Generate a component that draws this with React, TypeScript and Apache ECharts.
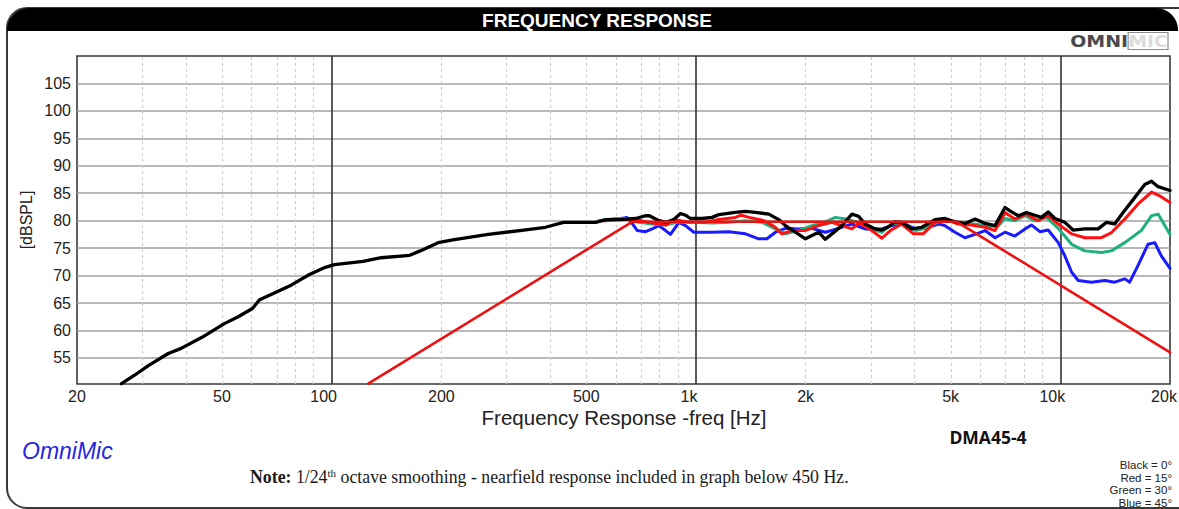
import React, { useEffect, useRef } from "react";
import * as echarts from "echarts";

// ---- data (frequency in Hz, level in dB SPL) ----
const FREQ_TICKS = [20, 50, 100, 200, 500, 1000, 2000, 5000, 10000, 20000];
const FREQ_TICK_LABELS = ["20", "50", "100", "200", "500", "1k", "2k", "5k", "10k", "20k"];
const DB_TICKS = [55, 60, 65, 70, 75, 80, 85, 90, 95, 100, 105];
const MINOR_FREQS = [30, 40, 50, 60, 70, 80, 90, 200, 300, 400, 500, 600, 700, 800, 900, 2000, 3000, 4000, 5000, 6000, 7000, 8000, 9000];
const MAJOR_FREQS = [100, 1000, 10000];

const black0: number[][] = [
  [26.5, 50.3], [28.7, 51.8], [31.4, 53.6], [35.6, 55.8], [38.5, 56.7], [44.2, 58.8], [50.6, 61.2], [55.4, 62.5],
  [60.6, 64.0], [63.4, 65.6], [69.4, 66.8], [77.6, 68.3], [86.9, 70.2], [95.1, 71.4], [101.8, 72.0], [122, 72.6],
  [136.7, 73.25], [163.8, 73.7], [175, 74.5], [196, 76.0], [215, 76.5], [269, 77.5], [337, 78.3], [386, 78.8],
  [433, 79.7], [530, 79.7], [568, 80.2], [615, 80.2], [683, 80.4], [727, 80.9], [745, 80.9], [791, 80.0],
  [828, 79.7], [869, 80.2], [907, 81.3], [936, 81.0], [965, 80.4], [1040, 80.4], [1107, 80.6], [1155, 81.1],
  [1283, 81.5], [1367, 81.7], [1456, 81.5], [1585, 81.2], [1687, 80.2], [1760, 79.1], [1875, 77.9], [1997, 76.7],
  [2081, 77.3], [2171, 77.9], [2264, 76.6], [2361, 77.6], [2514, 79.1], [2679, 81.2], [2794, 80.8], [2915, 79.4],
  [3105, 78.5], [3237, 78.3], [3376, 78.9], [3520, 79.8], [3670, 79.7], [3910, 78.5], [4167, 78.8], [4530, 80.2],
  [4826, 80.4], [5140, 79.8], [5475, 79.5], [5834, 80.3], [6214, 79.5], [6620, 79.1], [7050, 82.4], [7350, 81.6],
  [7670, 80.9], [8075, 81.5], [8510, 81.0], [8877, 80.6], [9262, 81.6], [9660, 80.4], [10290, 79.7], [10840, 78.3],
  [11670, 78.5], [12700, 78.5], [13390, 79.7], [14100, 79.4], [14870, 81.5], [16000, 84.2], [17050, 86.6],
  [17790, 87.2], [18550, 86.2], [20000, 85.5],
];

const red15: number[][] = [
  [560, 80.0], [615, 80.2], [683, 80.2], [727, 79.8], [791, 79.4], [828, 79.2], [869, 80.2], [953, 79.7],
  [1060, 79.7], [1155, 80.2], [1283, 80.6], [1330, 81.0], [1400, 80.6], [1540, 80.0], [1650, 78.8], [1720, 77.6],
  [1830, 78.2], [1990, 78.2], [2170, 79.1], [2360, 79.7], [2510, 79.1], [2680, 78.5], [2800, 79.6], [3040, 78.2],
  [3237, 76.8], [3415, 78.2], [3670, 79.4], [3953, 77.6], [4200, 77.6], [4530, 79.7], [4931, 80.0], [5250, 79.4],
  [5710, 79.2], [6214, 78.8], [6620, 78.2], [7050, 81.5], [7500, 80.3], [8075, 81.2], [8690, 80.0], [9262, 80.9],
  [9870, 79.4], [10740, 77.6], [11670, 76.9], [12970, 76.9], [13800, 77.8], [15030, 80.3], [16330, 83.0],
  [17790, 85.2], [18760, 84.5], [20000, 83.3],
];

const green30: number[][] = [
  [540, 80.0], [600, 80.4], [647, 80.4], [697, 79.7], [758, 79.4], [825, 79.2], [897, 79.8], [998, 79.7],
  [1107, 79.6], [1231, 79.7], [1367, 80.0], [1518, 79.7], [1652, 78.5], [1760, 77.6], [1913, 78.2], [2081, 79.1],
  [2264, 79.8], [2412, 80.6], [2570, 80.3], [2793, 79.7], [3040, 78.5], [3237, 77.9], [3450, 79.4], [3670, 79.7],
  [4000, 78.2], [4257, 78.6], [4630, 79.8], [4931, 80.0], [5360, 79.5], [5834, 79.4], [6350, 78.9], [6760, 79.1],
  [7050, 80.4], [7500, 80.0], [8000, 80.9], [8510, 80.0], [9166, 80.6], [9870, 78.6], [10740, 75.7], [11670, 74.5],
  [12970, 74.2], [13800, 74.5], [15030, 76.0], [16680, 78.2], [17790, 80.9], [18550, 81.2], [20000, 77.5],
];

const blue45: number[][] = [
  [600, 80.2], [647, 80.6], [665, 79.7], [690, 78.2], [727, 78.0], [758, 78.5], [791, 79.1], [825, 78.2],
  [851, 77.5], [878, 78.8], [897, 79.7], [936, 79.1], [986, 77.9], [1107, 77.9], [1231, 78.0], [1367, 77.6],
  [1486, 76.7], [1566, 76.7], [1652, 77.9], [1760, 78.6], [1913, 78.5], [2081, 78.6], [2264, 77.9], [2461, 78.6],
  [2679, 79.4], [2911, 78.5], [3237, 78.5], [3450, 79.1], [3750, 79.4], [4000, 78.5], [4257, 78.6], [4630, 79.4],
  [4826, 79.1], [5140, 77.9], [5475, 76.9], [5834, 77.5], [6214, 78.2], [6620, 76.9], [7050, 77.9], [7500, 77.2],
  [8000, 78.5], [8340, 79.2], [8790, 78.0], [9262, 78.3], [9870, 76.0], [10290, 73.6], [10740, 70.6], [11200, 69.1],
  [12180, 68.8], [13250, 69.1], [14100, 68.8], [15030, 69.4], [15500, 68.8], [16330, 71.8], [17400, 75.7],
  [18170, 76.0], [18930, 73.6], [20000, 71.3],
];

const targetLine: number[][] = [[126, 50.3], [668, 79.8], [5200, 79.8], [20000, 56.0]];

const LEGEND_LINES = ["Black = 0°", "Red = 15°", "Green = 30°", "Blue = 45°"];

// ---- helpers ----
const toLog = (pts: number[][]) => pts.map(([f, d]) => [Math.log10(f), d]);
const SANS = '"Liberation Sans", Arial, sans-serif';
const SERIF = '"Liberation Serif", "Times New Roman", serif';

export default function App() {
  const ref = useRef<HTMLDivElement>(null);

  useEffect(() => {
    if (!ref.current) return;
    const chart = echarts.init(ref.current, null, { renderer: "svg" });

    const gridLineData: any[] = [
      ...DB_TICKS.map((v) => ({ yAxis: v, lineStyle: { color: "#a0a0a0", width: 1.7, type: "solid" } })),
      ...MINOR_FREQS.map((f) => ({ xAxis: Math.log10(f), lineStyle: { color: "#cdcdcd", width: 1.2, type: [3, 3] } })),
      ...MAJOR_FREQS.map((f) => ({ xAxis: Math.log10(f), lineStyle: { color: "#333333", width: 1.6, type: "solid" } })),
    ];

    // small left shifts of some tick labels, as in the reference
    const labelStyleKey: Record<string, string> = { "100": "s16", "1k": "s14", "10k": "s16", "20k": "s12" };

    const curve = (name: string, data: number[][], color: string, width: number, z: number, extra: any = {}) => ({
      type: "line",
      name,
      data: toLog(data),
      showSymbol: false,
      symbol: "none",
      smooth: false,
      z,
      lineStyle: { color, width, join: "round", cap: "round" },
      emphasis: { disabled: true },
      ...extra,
    });

    const labelFont = { fontSize: 16, fontFamily: SANS, color: "#222" };

    const option: any = {
      animation: false,
      backgroundColor: "#ffffff",
      grid: {
        left: 77,
        right: 9,
        top: 56,
        bottom: 125,
        show: true,
        borderColor: "#3a3a3a",
        borderWidth: 1.6,
        backgroundColor: "#ffffff",
        outerBoundsMode: "none",
        containLabel: false,
      },
      xAxis: {
        type: "value",
        min: Math.log10(20),
        max: Math.log10(20000),
        axisLine: { show: false },
        axisTick: { show: false },
        splitLine: { show: false },
        axisLabel: {
          customValues: FREQ_TICKS.map((f) => Math.log10(f)),
          formatter: (v: number) => {
            const i = FREQ_TICKS.findIndex((f) => Math.abs(Math.log10(f) - v) < 1e-6);
            if (i < 0) return "";
            const lab = FREQ_TICK_LABELS[i];
            const key = labelStyleKey[lab] || "s0";
            return `{${key}|${lab}}`;
          },
          ...labelFont,
          margin: 4,
          hideOverlap: false,
          rich: {
            s0: { ...labelFont },
            s12: { ...labelFont, padding: [0, 12, 0, 0] },
            s14: { ...labelFont, padding: [0, 14, 0, 0] },
            s16: { ...labelFont, padding: [0, 16, 0, 0] },
          },
        },
      },
      yAxis: {
        type: "value",
        min: 50.25,
        max: 110,
        axisLine: { show: false },
        axisTick: { show: false },
        splitLine: { show: false },
        axisLabel: {
          customValues: DB_TICKS,
          ...labelFont,
          margin: 6,
        },
      },
      series: [
        curve("Blue = 45°", blue45, "#1a1aff", 3, 3, {
          markLine: {
            silent: true,
            symbol: "none",
            z: 1,
            label: { show: false },
            animation: false,
            emphasis: { disabled: true },
            data: gridLineData,
          },
        }),
        curve("Green = 30°", green30, "#1fb07c", 3, 4),
        curve("Red = 15°", red15, "#ff1010", 3, 5),
        curve("Black = 0°", black0, "#000000", 3.3, 6),
        curve("Target", targetLine, "#ee1111", 2.6, 7),
      ],
      graphic: [
        {
          type: "rect",
          z: 0,
          shape: { x: 7, y: 8, width: 1210, height: 500, r: 20 },
          style: { fill: "none", stroke: "#3a3a3a", lineWidth: 2 },
        },
        {
          type: "rect",
          z: 10,
          shape: { x: 7, y: 8, width: 1171, height: 23, r: [22, 22, 0, 0] },
          style: { fill: "#000000" },
        },
        {
          type: "text",
          z: 11,
          x: 597,
          y: 20,
          style: {
            text: "FREQUENCY RESPONSE",
            font: `bold 19px ${SANS}`,
            fill: "#ffffff",
            textAlign: "center",
            textVerticalAlign: "middle",
            align: "center",
            verticalAlign: "middle",
          },
        },
        {
          type: "text",
          z: 11,
          x: 1168,
          y: 41,
          scaleX: 1.15,
          style: {
            text: "{a|OMNI}{b|MIC}",
            textAlign: "right",
            textVerticalAlign: "middle",
            align: "right",
            verticalAlign: "middle",
            rich: {
              a: { fontFamily: '"DejaVu Sans", sans-serif', fontWeight: "bold", fontSize: 16.5, fill: "#4a4a4a", color: "#4a4a4a" },
              b: {
                fontFamily: '"DejaVu Sans", sans-serif',
                fontWeight: "bold",
                fontSize: 16.5,
                fill: "#dcdcdc",
                color: "#dcdcdc",
                textBorderColor: "#8a8a8a",
                textBorderWidth: 1,
              },
            },
          },
        },
        {
          type: "text",
          z: 11,
          x: 26,
          y: 220,
          rotation: Math.PI / 2,
          style: {
            text: "[dBSPL]",
            font: `16px ${SANS}`,
            fill: "#222",
            textAlign: "center",
            textVerticalAlign: "middle",
            align: "center",
            verticalAlign: "middle",
          },
        },
        {
          type: "text",
          z: 11,
          x: 624,
          y: 417,
          style: {
            text: "Frequency Response -freq [Hz]",
            font: `20.5px ${SANS}`,
            fill: "#222",
            textAlign: "center",
            textVerticalAlign: "middle",
            align: "center",
            verticalAlign: "middle",
          },
        },
        {
          type: "text",
          z: 11,
          x: 22,
          y: 451,
          style: {
            text: "OmniMic",
            font: `italic 23px ${SANS}`,
            fill: "#2626dc",
            textAlign: "left",
            textVerticalAlign: "middle",
            align: "left",
            verticalAlign: "middle",
          },
        },
        {
          type: "text",
          z: 11,
          x: 988,
          y: 437,
          style: {
            text: "DMA45-4",
            font: `bold 17.5px "Open Sans", sans-serif`,
            fill: "#111",
            textAlign: "center",
            textVerticalAlign: "middle",
            align: "center",
            verticalAlign: "middle",
          },
        },
        {
          type: "text",
          z: 11,
          x: 250,
          y: 477,
          style: {
            text: "{b|Note:} 1/24{s|th} octave smoothing - nearfield response included in graph below 450 Hz.",
            font: `17.8px ${SERIF}`,
            fill: "#1a1a1a",
            textAlign: "left",
            textVerticalAlign: "middle",
            align: "left",
            verticalAlign: "middle",
            lineHeight: 20,
            rich: {
              b: { fontFamily: SERIF, fontWeight: "bold", fontSize: 17.8, lineHeight: 20 },
              s: { fontFamily: SERIF, fontSize: 11, lineHeight: 11, verticalAlign: "top" },
            },
          },
        },
        ...LEGEND_LINES.map((t, i) => ({
          type: "text",
          z: 11,
          x: 1172,
          y: 465 + i * 12.5,
          style: {
            text: t,
            font: `11.5px ${SANS}`,
            fill: "#222",
            textAlign: "right",
            textVerticalAlign: "middle",
            align: "right",
            verticalAlign: "middle",
          },
        })),
      ],
    };

    chart.setOption(option);
    return () => chart.dispose();
  }, []);

  return (
    <div
      ref={ref}
      style={{ position: "fixed", left: 0, top: 0, width: 1179, height: 509, background: "#fff" }}
    />
  );
}
